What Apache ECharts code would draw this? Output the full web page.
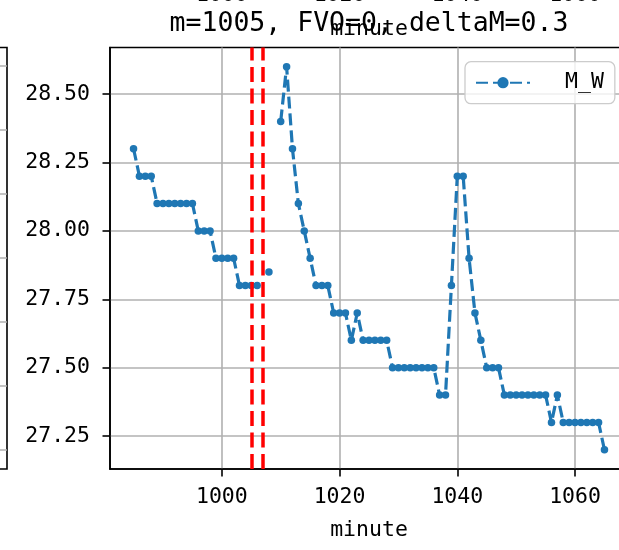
<!DOCTYPE html>
<html><head><meta charset="utf-8">
<script src="https://cdn.jsdelivr.net/npm/echarts@6/dist/echarts.min.js"></script>
<style>html,body{margin:0;padding:0;background:#fff;overflow:hidden}#c{width:619px;height:550px}</style>
</head><body><div id="c"></div>
<script>
// ---- data ----
const minutes = [985,986,987,988,989,990,991,992,993,994,995,996,997,998,999,1000,1001,1002,1003,1004,1005,1006,
  1007,1008,1009,1010,1011,1012,1013,1014,1015,1016,1017,1018,1019,1020,1021,1022,1023,1024,1025,1026,1027,1028,
  1029,1030,1031,1032,1033,1034,1035,1036,1037,1038,1039,1040,1041,1042,1043,1044,1045,1046,1047,1048,1049,1050,
  1051,1052,1053,1054,1055,1056,1057,1058,1059,1060,1061,1062,1063,1064,1065];
const mW = [28.3,28.2,28.2,28.2,28.1,28.1,28.1,28.1,28.1,28.1,28.1,28.0,28.0,28.0,27.9,27.9,27.9,27.9,27.8,27.8,27.8,27.8,
  null,27.85,null,28.4,28.6,28.3,28.1,28.0,27.9,27.8,27.8,27.8,27.7,27.7,27.7,27.6,27.7,27.6,27.6,27.6,27.6,27.6,
  27.5,27.5,27.5,27.5,27.5,27.5,27.5,27.5,27.4,27.4,27.8,28.2,28.2,27.9,27.7,27.6,27.5,27.5,27.5,27.4,27.4,27.4,
  27.4,27.4,27.4,27.4,27.4,27.3,27.4,27.3,27.3,27.3,27.3,27.3,27.3,27.3,27.2];
const markMinutes = [1005, 1007];
const xTicks = [1000, 1020, 1040, 1060];
const yTicks = [27.25, 27.5, 27.75, 28.0, 28.25, 28.5];
const leftPanelTicks = [0.3, 1.3, 2.3, 3.3, 4.3, 5.3, 6.3];
const seriesName = 'M_W';
const titleText = 'm=1005, FVO=0, deltaM=0.3';
const xName = 'minute';

// ---- chart ----
const FF = '"DejaVu Sans Mono", "Liberation Mono", monospace';
const FS = 21.5;
const chart = echarts.init(document.getElementById('c'), null, {renderer: 'canvas'});

function xAxisCfg(gi, nameGap) {
  return {
    gridIndex: gi, type: 'value', min: 981, max: 1069,
    axisLine: {show: true, onZero: false, lineStyle: {color: '#000', width: 1.6}},
    axisTick: {show: true, length: 7.5, customValues: xTicks, lineStyle: {color: '#000', width: 1.6}},
    axisLabel: {show: true, customValues: xTicks, margin: 17, color: '#000', fontFamily: FF, fontSize: FS,
                formatter: v => String(v)},
    splitLine: {show: true, lineStyle: {color: '#b0b0b0', width: 1.6}},
    name: xName, nameLocation: 'middle', nameGap: nameGap,
    nameTextStyle: {color: '#000', fontFamily: FF, fontSize: FS}
  };
}

const option = {
  animation: false,
  backgroundColor: '#fff',
  grid: [
    {left: 110, right: -9, top: 47.5, bottom: 81, show: true, borderColor: '#000', borderWidth: 1.6, outerBoundsMode: 'none', containLabel: false},
    {left: 110, right: -9, top: -454.3, height: 422, show: false, outerBoundsMode: 'none', containLabel: false},
    {left: -400, right: 612, top: 47.5, bottom: 81, show: true, borderColor: '#000', borderWidth: 1.6, outerBoundsMode: 'none', containLabel: false}
  ],
  xAxis: [
    xAxisCfg(0, 50),
    xAxisCfg(1, 51),
    {gridIndex: 2, type: 'value', min: 0, max: 1, show: false}
  ],
  yAxis: [
    {gridIndex: 0, type: 'value', min: 27.13, max: 28.67,
     axisLine: {show: true, lineStyle: {color: '#000', width: 1.6}},
     axisTick: {show: true, length: 7.5, customValues: yTicks, lineStyle: {color: '#000', width: 1.6}},
     axisLabel: {show: true, customValues: yTicks, margin: 20, color: '#000', fontFamily: FF, fontSize: FS,
                 formatter: v => Number(v).toFixed(2)},
     splitLine: {show: true, lineStyle: {color: '#b0b0b0', width: 1.6}}},
    {gridIndex: 1, type: 'value', min: 0, max: 1, show: false},
    {gridIndex: 2, type: 'value', min: 0, max: 6.58,
     axisLine: {show: false}, axisLabel: {show: false},
     axisTick: {show: false, customValues: leftPanelTicks},
     splitLine: {show: true, lineStyle: {color: '#b0b0b0', width: 1.6}}}
  ],
  legend: {
    data: [seriesName], left: 465, top: 61.7, orient: 'vertical',
    itemWidth: 54, itemHeight: 14,
    padding: [10, 11, 10, 10],
    backgroundColor: 'rgba(255,255,255,0.8)', borderColor: '#cccccc', borderWidth: 1.3, borderRadius: 6,
    textStyle: {color: '#000', fontFamily: FF, fontSize: FS, padding: [0, 0, 0, 30]}
  },
  graphic: [
    {type: 'text', x: 369, y: 24, z: 100,
     style: {text: titleText, fill: '#000', font: '26.5px ' + FF, align: 'center', verticalAlign: 'middle'}}
  ],
  series: [{
    name: seriesName, type: 'line', xAxisIndex: 0, yAxisIndex: 0,
    data: minutes.map((m, i) => [m, mW[i] === null ? '-' : mW[i]]),
    connectNulls: false, showSymbol: true, showAllSymbol: true,
    symbol: 'circle', symbolSize: 7.5,
    itemStyle: {color: '#1f77b4'},
    lineStyle: {color: '#1f77b4', width: 3.2, type: [12, 5]},
    emphasis: {disabled: true},
    markLine: {
      silent: true, symbol: ['none', 'none'], label: {show: false}, animation: false,
      lineStyle: {color: '#ff0000', width: 3.5, type: [15, 6.5]},
      data: markMinutes.map(m => ({xAxis: m}))
    }
  }]
};
chart.setOption(option);
</script></body></html>
